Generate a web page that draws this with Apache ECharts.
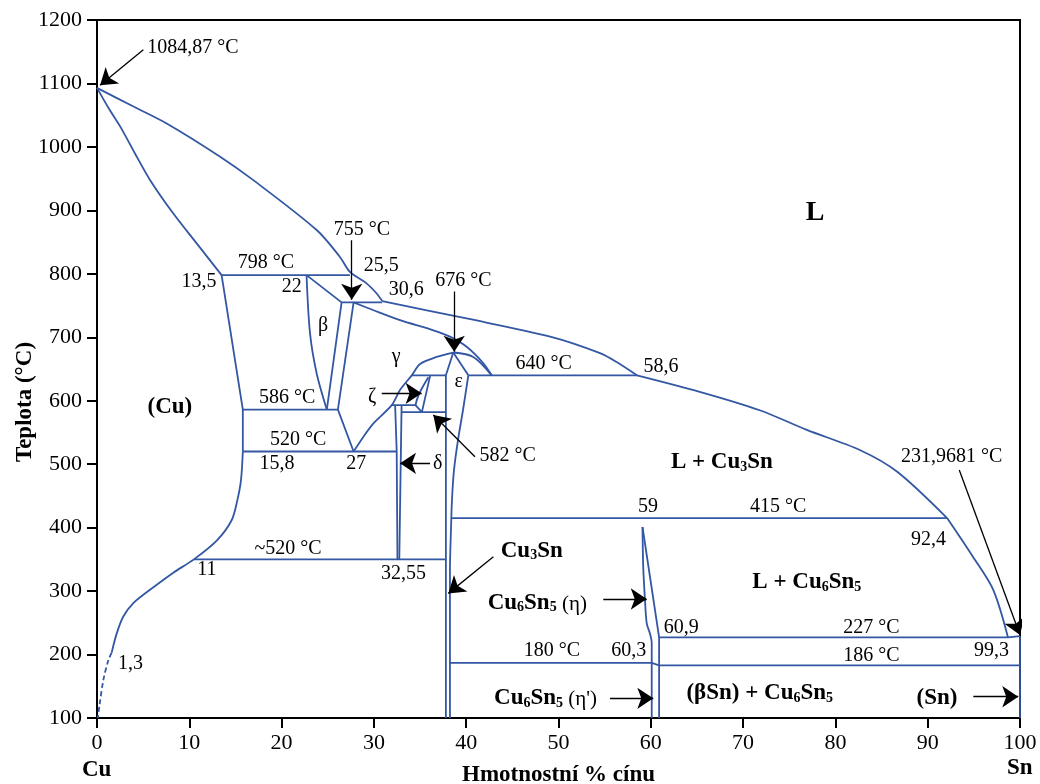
<!DOCTYPE html>
<html>
<head>
<meta charset="utf-8">
<script src="https://cdn.jsdelivr.net/npm/echarts@6/dist/echarts.min.js"></script>
<style>
html, body { margin: 0; padding: 0; background: #fff; }
#chart { width: 1040px; height: 784px; }
</style>
</head>
<body>
<div id="chart"></div>
<script>
// fázové hranice Cu-Sn  [hm. % Sn, °C]
var liqA = [[0,1093],[3.9,1064],[7.55,1037],[13.3,985],[16.9,948],[23.8,869],[26.3,827],[27.4,803],[29.2,785],[30.3,769],[30.9,757]];
var liqB = [[30.9,757],[39.9,730],[49.1,701],[54.5,675],[56.3,661],[58.5,640]];
var liqC = [[58.5,640],[65.3,614],[71.8,585],[76.9,554],[82.7,522],[86.7,488],[92.1,415]];
var liqD = [[92.1,415],[94.9,354],[97.1,302],[98.7,227]];
var liqEnd = [[98.7,227],[100,229]];
var cuSolidus = [[0,1093],[1.3,1060],[2.6,1030],[4.1,990],[5.74,948],[8.27,895],[10.8,848],[13.5,798]];
var cuSolvusTop = [[13.5,798],[15.8,586],[15.8,520]];
var cuSolvusLow = [[15.8,520],[15.6,475],[15.2,443],[14.6,412],[13.0,380],[10.5,350],[8.27,329],[5.74,302],[3.94,281],[2.85,260],[2.13,233],[1.59,203]];
var cuSolvusDash = [[1.59,203],[1.23,191],[0.69,160],[0.25,118],[0.1,100]];
var betaLeft = [[22.7,798],[23.08,706],[23.8,643],[24.9,586]];
var betaRight = [[22.7,798],[26.5,755],[24.9,586]];
var gammaLeft = [[27.8,755],[26.1,586],[27.8,520]];
var gammaDome = [[27.8,520],[28.85,543],[29.93,564],[31.93,593],[32.83,617],[34.1,640],[35.0,658],[36.8,669],[38.6,676]];
var gammaDomeR = [[38.6,676],[40.77,669],[42.76,640]];
var gammaLiq = [[27.8,755],[29.9,743],[32.83,727],[36.44,711],[38.24,701],[40.05,685],[41.86,659],[42.76,640]];
var epsLeft = [[38.6,676],[37.8,640],[37.8,100]];
var epsRightTop = [[38.6,676],[40.23,640]];
var epsRight = [[40.23,640],[39.65,585],[39.11,538],[38.68,491],[38.46,444],[38.35,396],[38.24,333],[38.24,100]];
var zetaRight = [[36.1,640],[35.2,582]];
var zetaLeft = [[35.9,637],[34.9,611],[34.5,593]];
var zetaBottom = [[31.93,593],[34.5,593],[35.2,582]];
var deltaLeft = [[32.3,593],[32.47,520],[32.55,350]];
var deltaRight = [[33.0,593],[32.75,350]];
var etaLeft = [[59.1,401],[59.18,338],[59.37,286],[59.56,249],[59.91,233],[60.1,218],[60.1,187],[60.1,100]];
var etaRight = [[59.1,401],[60.9,227],[60.9,100]];
var snSide = [[100,229],[100,100]];
var iso798 = [[13.5,798],[27.4,798]];
var iso755 = [[26.5,755],[30.9,755]];
var iso640 = [[40.23,640],[58.5,640]];
var iso640g = [[34.1,640],[37.8,640]];
var iso586 = [[15.8,586],[26.1,586]];
var iso582 = [[33.0,582],[37.8,582]];
var iso520 = [[15.8,520],[32.47,520]];
var iso350 = [[10.5,350],[37.8,350]];
var iso415 = [[38.4,415],[92.1,415]];
var iso227 = [[60.9,227],[98.7,227]];
var iso180 = [[38.24,187],[60.1,187],[60.9,183]];
var iso186 = [[60.9,183],[100,183]];

var curves = [liqA, liqB, liqC, liqD, cuSolidus, cuSolvusLow, betaLeft, gammaDome, gammaDomeR, gammaLiq, epsRight, zetaLeft, etaLeft];
var straight = [liqEnd, cuSolvusTop, betaRight, gammaLeft, epsLeft, epsRightTop, zetaRight, zetaBottom, deltaLeft, deltaRight,
  etaRight, snSide, iso798, iso755, iso640, iso640g, iso586, iso582, iso520, iso350, iso415, iso227, iso180, iso186];

// šipky [od, k]
var arrows = [
  [[5.02,1153],[0.33,1097]],
  [[27.6,853],[27.6,759]],
  [[38.7,772],[38.7,677]],
  [[30.85,611.7],[35.17,611.7]],
  [[40.95,511.8],[36.44,577.5]],
  [[36.08,501.3],[32.83,501.3]],
  [[42.94,354],[38.06,296.4]],
  [[54.85,287.5],[59.56,287.5]],
  [[55.58,131],[60.27,131]],
  [[94.94,133.5],[99.81,133.5]],
  [[93.42,490.8],[100,230.7]]
];

// popisky [x, T, text]
var numLabels = [
  [10.4,1157,'1084,87 °C'], [18.3,817,'798 °C'], [11.05,788,'13,5'], [21.1,780,'22'],
  [28.7,869,'755 °C'], [30.8,812,'25,5'], [33.5,774.5,'30,6'], [39.7,788.7,'676 °C'],
  [24.5,718,'β'], [32.4,669,'γ'], [39.2,629.5,'ε'], [29.8,607,'ζ'],
  [20.6,604,'586 °C'], [21.8,538,'520 °C'], [19.5,500,'15,8'], [28.1,500,'27'],
  [36.9,500,'δ'], [44.5,514,'582 °C'], [48.4,658,'640 °C'], [61.1,653,'58,6'],
  [92.6,511,'231,9681 °C'], [59.7,432.5,'59'], [73.8,432.5,'415 °C'], [90.1,380.5,'92,4'],
  [20.7,367,'~520 °C'], [11.9,333,'11'], [33.2,328,'32,55'], [63.3,243,'60,9'],
  [83.9,243,'227 °C'], [96.9,205.5,'99,3'], [83.9,197.6,'186 °C'], [49.3,205.5,'180 °C'],
  [57.6,205.5,'60,3'], [3.63,186,'1,3']
];
var phaseLabels = [
  [77.8,896,'{big|L}'],
  [7.9,592,'{b|(Cu)}'],
  [67.7,505,'{b|L + Cu}{s|3}{b|Sn}'],
  [76.9,316,'{b|L + Cu}{s|6}{b|Sn}{s|5}'],
  [47.1,365,'{b|Cu}{s|3}{b|Sn}'],
  [47.7,283,'{b|Cu}{s|6}{b|Sn}{s|5}{n| (η)}'],
  [48.6,133,'{b|Cu}{s|6}{b|Sn}{s|5}{n| (η\')}'],
  [71.8,141,'{b|(βSn) + Cu}{s|6}{b|Sn}{s|5}'],
  [91.0,133,'{b|(Sn)}']
];

var font = '"Liberation Serif", "DejaVu Serif", serif';
var blue = '#3357a3';

var chart = echarts.init(document.getElementById('chart'));

var series = [];
curves.forEach(function(c) {
  series.push({type: 'line', data: c, showSymbol: false, symbol: 'none', smooth: 0.3, silent: true,
    lineStyle: {color: blue, width: 1.8}});
});
straight.forEach(function(c) {
  series.push({type: 'line', data: c, showSymbol: false, symbol: 'none', smooth: false, silent: true,
    lineStyle: {color: blue, width: 1.8}});
});
series.push({type: 'line', data: cuSolvusDash, showSymbol: false, symbol: 'none', smooth: 0.3, silent: true,
  lineStyle: {color: blue, width: 1.8, type: [5, 3]}});

series.push({
  type: 'lines',
  coordinateSystem: 'cartesian2d',
  data: arrows.map(function(a) { return {coords: a}; }),
  symbol: ['none', 'arrow'],
  symbolSize: 16,
  silent: true,
  z: 5,
  lineStyle: {color: '#000', width: 1.3, opacity: 1, curveness: 0}
});

var rich = {
  b: {fontFamily: font, fontWeight: 'bold', fontSize: 23, color: '#000', verticalAlign: 'bottom', lineHeight: 26},
  s: {fontFamily: font, fontWeight: 'bold', fontSize: 14, color: '#000', verticalAlign: 'bottom', lineHeight: 20},
  n: {fontFamily: font, fontSize: 21, color: '#000', verticalAlign: 'bottom', lineHeight: 26},
  big: {fontFamily: font, fontWeight: 'bold', fontSize: 28, color: '#000'}
};

series.push({
  type: 'scatter',
  data: numLabels.map(function(l) { return {value: [l[0], l[1]], name: l[2]}; }),
  symbolSize: 1,
  itemStyle: {color: 'rgba(0,0,0,0)', opacity: 1},
  silent: true,
  z: 6,
  label: {show: true, position: 'inside', formatter: '{b}', fontFamily: font, fontSize: 20, color: '#000', opacity: 1}
});
series.push({
  type: 'scatter',
  data: phaseLabels.map(function(l) { return {value: [l[0], l[1]], name: l[2]}; }),
  symbolSize: 1,
  itemStyle: {color: 'rgba(0,0,0,0)', opacity: 1},
  silent: true,
  z: 6,
  label: {show: true, position: 'inside', formatter: '{b}', rich: rich, opacity: 1}
});

var option = {
  animation: false,
  backgroundColor: '#fff',
  grid: {left: 97, right: 20, top: 20, bottom: 66, containLabel: false, outerBoundsMode: 'none',
    show: true, borderColor: '#000', borderWidth: 2},
  xAxis: {
    type: 'value', min: 0, max: 100, interval: 10,
    name: 'Hmotnostní % cínu', nameLocation: 'middle', nameGap: 46,
    nameTextStyle: {fontFamily: font, fontWeight: 'bold', fontSize: 23, color: '#000'},
    axisLine: {lineStyle: {color: '#000', width: 2}},
    axisTick: {inside: false, length: 10, lineStyle: {color: '#000', width: 2}},
    axisLabel: {fontFamily: font, fontSize: 22, color: '#000', margin: 14, formatter: function(v) { return String(v); }},
    splitLine: {show: false}
  },
  yAxis: {
    type: 'value', min: 100, max: 1200, interval: 100,
    axisLine: {lineStyle: {color: '#000', width: 2}},
    axisTick: {inside: false, length: 10, lineStyle: {color: '#000', width: 2}},
    axisLabel: {fontFamily: font, fontSize: 22, color: '#000', margin: 15, formatter: function(v) { return String(v); }},
    splitLine: {show: false}
  },
  graphic: [
    {type: 'text', x: 25, y: 402, rotation: Math.PI / 2,
      style: {text: 'Teplota (°C)', align: 'center', verticalAlign: 'middle', fontFamily: font, fontWeight: 'bold', fontSize: 23, fill: '#000'}},
    {type: 'text', left: 82, top: 759, style: {text: 'Cu', fontFamily: font, fontWeight: 'bold', fontSize: 23, fill: '#000'}},
    {type: 'text', left: 1007, top: 757, style: {text: 'Sn', fontFamily: font, fontWeight: 'bold', fontSize: 23, fill: '#000'}}
  ],
  series: series
};

chart.setOption(option);
</script>
</body>
</html>
